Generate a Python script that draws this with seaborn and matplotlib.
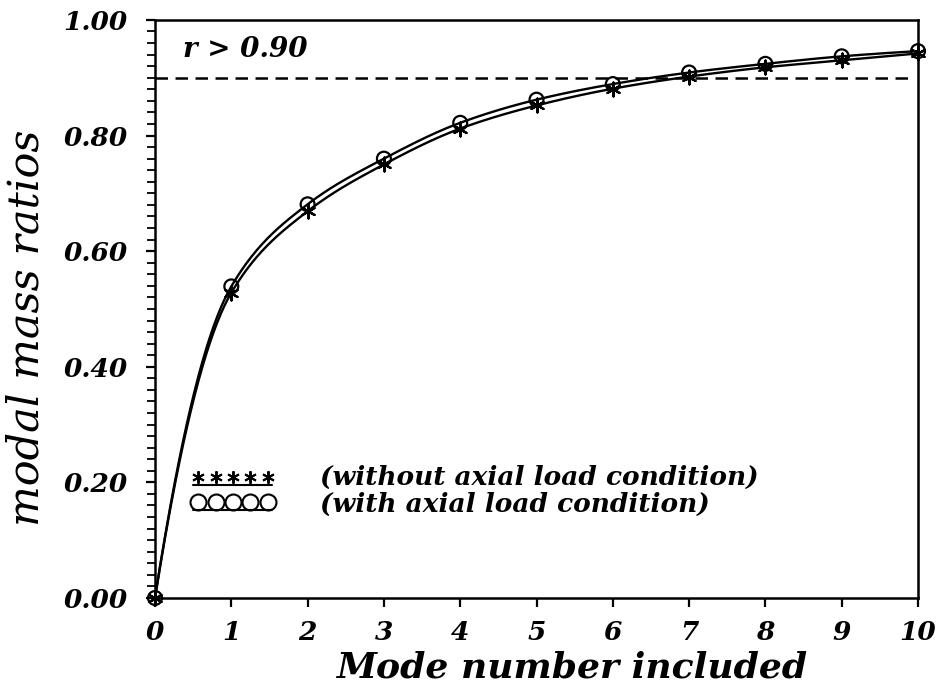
import numpy as np
import pandas as pd
import matplotlib
matplotlib.use("Agg")
import matplotlib.pyplot as plt
from matplotlib.font_manager import FontProperties
import seaborn as sns

# ---- data ----
modes = [0, 1, 2, 3, 4, 5, 6, 7, 8, 9, 10]
ratio_without_axial = [0.0, 0.528, 0.669, 0.750, 0.812, 0.852, 0.881, 0.902, 0.918, 0.930, 0.942]
ratio_with_axial = [0.0, 0.539, 0.681, 0.760, 0.822, 0.862, 0.889, 0.909, 0.924, 0.937, 0.946]
threshold = 0.90
x_ticks = [0, 1, 2, 3, 4, 5, 6, 7, 8, 9, 10]
y_ticks = [0.0, 0.2, 0.4, 0.6, 0.8, 1.0]
legend_labels = ["(without axial load condition)", "(with axial load condition)"]


def smooth_path(x, y, per_seg=60):
    """Monotone cubic Hermite drawing path through the measured points
    (harmonic-mean interior slopes, parabolic end slopes)."""
    x = np.asarray(x, float)
    y = np.asarray(y, float)
    h = np.diff(x)
    m = np.diff(y) / h
    d = np.zeros_like(y)
    for i in range(1, len(y) - 1):
        if m[i - 1] * m[i] > 0:
            d[i] = 2.0 / (1.0 / m[i - 1] + 1.0 / m[i])
    d[0] = 2 * m[0] - d[1]
    d[-1] = 2 * m[-1] - d[-2]
    xs_all, ys_all = [], []
    for i in range(len(x) - 1):
        t = np.linspace(0, 1, per_seg, endpoint=(i == len(x) - 2))
        h00 = (1 + 2 * t) * (1 - t) ** 2
        h10 = t * (1 - t) ** 2
        h01 = t ** 2 * (3 - 2 * t)
        h11 = t ** 2 * (t - 1)
        xs_all.append(x[i] + t * h[i])
        ys_all.append(h00 * y[i] + h10 * h[i] * d[i] + h01 * y[i + 1] + h11 * h[i] * d[i + 1])
    return np.concatenate(xs_all), np.concatenate(ys_all)


sns.set_style("ticks")
plt.rcParams["font.family"] = ["DejaVu Serif", "DejaVu Sans"]
plt.rcParams["text.color"] = "black"
plt.rcParams["axes.labelcolor"] = "black"
plt.rcParams["xtick.color"] = "black"
plt.rcParams["ytick.color"] = "black"

fig = plt.figure(figsize=(9.40, 6.89), dpi=100)
ax = fig.add_axes([0.1649, 0.1321, 0.8117, 0.839])

asterisk = (6, 2, 0)

for yv, mk, ms in [(ratio_without_axial, asterisk, 10), (ratio_with_axial, "o", 10)]:
    xs, ys = smooth_path(modes, yv)
    dense = pd.DataFrame({"x": xs, "y": ys})
    sns.lineplot(data=dense, x="x", y="y", ax=ax, color="black", lw=1.7,
                 sort=False, estimator=None)
    pts = pd.DataFrame({"x": modes, "y": yv})
    sns.scatterplot(data=pts, x="x", y="y", ax=ax, marker=mk, s=ms ** 2,
                    facecolor="none" if mk == "o" else "black",
                    edgecolor="black", linewidth=1.6, clip_on=False, zorder=5)

ax.axhline(threshold, xmin=0, xmax=0.99, color="black", lw=1.8,
           linestyle=(0, (5, 3)))

ax.set_xlim(0, 10)
ax.set_ylim(0, 1.0)
ax.set_xticks(x_ticks)
ax.set_xticklabels([str(t) for t in x_ticks])
ax.set_yticks(y_ticks)
ax.set_yticklabels([f"{t:.2f}" for t in y_ticks])
ax.set_yticks(np.arange(0, 1.0001, 0.02), minor=True)

tick_fp = FontProperties(family="DejaVu Serif", style="italic", weight="bold", size=19)
for lab in ax.get_xticklabels() + ax.get_yticklabels():
    lab.set_fontproperties(tick_fp)
    lab.set_color("black")

ax.tick_params(axis="both", which="major", direction="out", length=6.5, width=1.6,
               color="black")
ax.tick_params(axis="y", which="minor", direction="out", length=6, width=1.3)
ax.tick_params(axis="y", which="major", pad=13)
ax.tick_params(axis="x", which="major", pad=9)

for sp in ax.spines.values():
    sp.set_visible(True)
    sp.set_color("black")
    sp.set_linewidth(1.8)

ax.set_xlabel("Mode number included", fontsize=26, style="italic", weight="bold",
              va="center", color="black")
ax.xaxis.set_label_coords(0.5465, -0.121)
ax.set_ylabel("modal mass ratios", fontsize=31, style="italic", va="center",
              color="black")
ax.yaxis.set_label_coords(-0.168, 0.467)

ax.text(0.037, 0.948, "r > 0.90", transform=ax.transAxes, fontsize=20,
        style="italic", weight="bold", va="center", ha="left")

# legend drawn as in the original figure
leg_x = np.linspace(0.0564, 0.148, 5)
ax.plot(leg_x, [0.209] * 5, transform=ax.transAxes, ls="none", marker=asterisk,
        ms=9, mew=1.4, color="black", clip_on=False)
ax.plot([0.050, 0.153], [0.196, 0.196], transform=ax.transAxes, color="black", lw=1.5)
ax.plot(leg_x, [0.166] * 5, transform=ax.transAxes, ls="none", marker="o",
        ms=11.5, mew=1.5, mfc="none", color="black", clip_on=False)
ax.plot([0.050, 0.153], [0.152, 0.152], transform=ax.transAxes, color="black", lw=1.5)
ax.text(0.216, 0.209, legend_labels[0], transform=ax.transAxes, fontsize=19,
        style="italic", weight="bold", va="center", ha="left")
ax.text(0.216, 0.162, legend_labels[1], transform=ax.transAxes, fontsize=19,
        style="italic", weight="bold", va="center", ha="left")

fig.savefig("out.png", dpi=100)
